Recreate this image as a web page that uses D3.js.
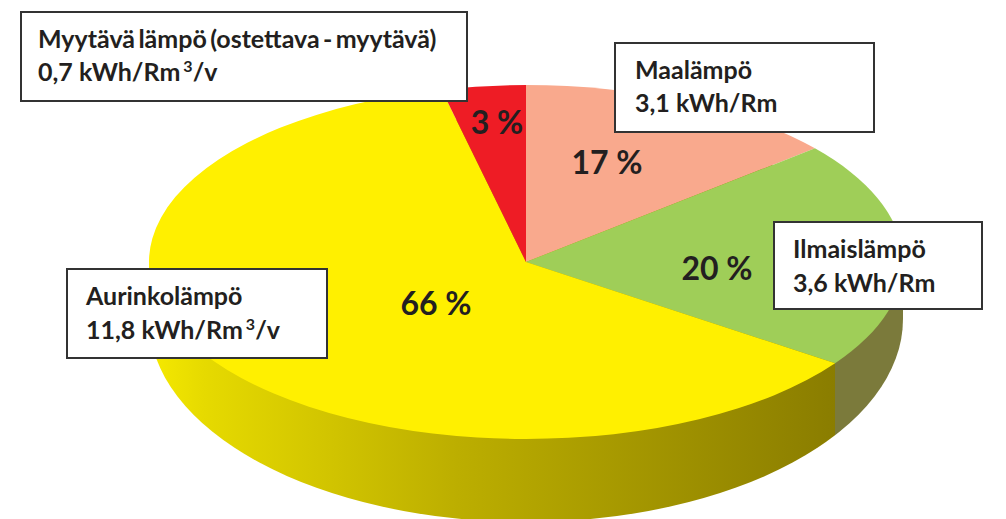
<!DOCTYPE html>
<html>
<head>
<meta charset="utf-8">
<script src="https://cdn.jsdelivr.net/npm/d3@7"></script>
<style>
  html, body { margin: 0; padding: 0; background: #fff; }
  svg { display: block; }
  text { font-family: Lato, "Open Sans", sans-serif; font-weight: 700; fill: #231f20; }
</style>
</head>
<body>
<script>
// Data
var categories = ['Maalämpö', 'Ilmaislämpö', 'Aurinkolämpö', 'Myytävä lämpö (ostettava - myytävä)'];
var valueLabels = ['3,1 kWh/Rm', '3,6 kWh/Rm', '11,8 kWh/Rm', '0,7 kWh/Rm'];
var valueSuffix = ['', '', '/v', '/v'];
var percentLabels = ['17 %', '20 %', '66 %', '3 %'];
// drawn size of each slice in the tilted pie (not the same as the printed %)
var sliceShares = [13.9, 20.8, 61.7, 3.6];
var sliceColors = ['#f9a98d', '#9fce58', '#fff000', '#ee1c25'];

// Layout
var w = 1006,
    h = 519,
    cx = 526,
    topY = 262,
    rx = 377,
    topRy = 177,
    bottomY = 319,
    bottomRy = 203;

var boxes = [
  { x: 615, y: 43, w: 259, h: 89, tx: 635, y1: 79, y2: 112, spacing: 0 },
  { x: 774, y: 222, w: 208, h: 87, tx: 793, y1: 258, y2: 292, spacing: 0 },
  { x: 67, y: 269, w: 260, h: 89, tx: 86, y1: 305, y2: 339, spacing: 0 },
  { x: 21, y: 12, w: 446, h: 89, tx: 38, y1: 48, y2: 81, spacing: -2.7 }
];
var percentPos = [[607, 174], [717, 280], [436, 315], [497, 134]];

var svg = d3.select('body')
            .append('svg')
            .attr('width', w)
            .attr('height', h);

var pie = d3.pie().sort(null);
var slices = pie(sliceShares);
var arc = d3.arc().innerRadius(0).outerRadius(rx);

// x where green meets yellow on the rim, the side wall changes colour there
var wallSplit = cx + rx * Math.sin(slices[1].endAngle);

var defs = svg.append('defs');

var grad = defs.append('linearGradient')
               .attr('id', 'wall')
               .attr('gradientUnits', 'userSpaceOnUse')
               .attr('x1', cx - rx).attr('x2', wallSplit)
               .attr('y1', 0).attr('y2', 0);
grad.append('stop').attr('offset', '0%').attr('stop-color', '#f6ea00');
grad.append('stop').attr('offset', '8%').attr('stop-color', '#e6da00');
grad.append('stop').attr('offset', '45%').attr('stop-color', '#bcae00');
grad.append('stop').attr('offset', '100%').attr('stop-color', '#8a7d00');

defs.append('clipPath').attr('id', 'wall-yellow')
    .append('rect')
    .attr('x', 0).attr('y', 0).attr('width', wallSplit).attr('height', h);
defs.append('clipPath').attr('id', 'wall-olive')
    .append('rect')
    .attr('x', wallSplit).attr('y', 0).attr('width', w - wallSplit).attr('height', h);

// Side wall: lower ellipse plus a band up to the top ellipse
function drawWall(clip, fill) {
  var g = svg.append('g').attr('clip-path', 'url(#' + clip + ')');
  g.append('ellipse')
   .attr('cx', cx).attr('cy', bottomY)
   .attr('rx', rx).attr('ry', bottomRy)
   .attr('fill', fill);
  g.append('rect')
   .attr('x', cx - rx).attr('y', topY)
   .attr('width', rx * 2).attr('height', bottomY - topY)
   .attr('fill', fill);
}
drawWall('wall-yellow', 'url(#wall)');
drawWall('wall-olive', '#7b7a3b');

// Top face
svg.append('g')
   .attr('transform', 'translate(' + cx + ',' + topY + ') scale(1,' + (topRy / rx) + ')')
   .selectAll('path')
   .data(slices)
   .enter()
   .append('path')
   .attr('d', arc)
   .attr('fill', function(d, i) { return sliceColors[i]; });

// Percent labels
svg.selectAll('text.pct')
   .data(percentLabels)
   .enter()
   .append('text')
   .attr('class', 'pct')
   .attr('x', function(d, i) { return percentPos[i][0]; })
   .attr('y', function(d, i) { return percentPos[i][1]; })
   .attr('text-anchor', 'middle')
   .attr('font-size', 32)
   .text(function(d) { return d; });

// Label boxes
var box = svg.selectAll('g.box')
             .data(boxes)
             .enter()
             .append('g')
             .attr('class', 'box');

box.append('rect')
   .attr('x', function(d) { return d.x; })
   .attr('y', function(d) { return d.y; })
   .attr('width', function(d) { return d.w; })
   .attr('height', function(d) { return d.h; })
   .attr('fill', '#fff')
   .attr('stroke', '#333')
   .attr('stroke-width', 2);

box.append('text')
   .attr('x', function(d) { return d.tx; })
   .attr('y', function(d) { return d.y1; })
   .attr('font-size', 25)
   .attr('word-spacing', function(d) { return d.spacing; })
   .text(function(d, i) { return categories[i]; });

var second = box.append('text')
   .attr('x', function(d) { return d.tx; })
   .attr('y', function(d) { return d.y2; })
   .attr('font-size', 25);

second.each(function(d, i) {
  var t = d3.select(this);
  t.append('tspan').text(valueLabels[i]);
  if (valueSuffix[i]) {
    t.append('tspan').attr('dx', 3).attr('dy', -9).attr('font-size', 16).text('3');
    t.append('tspan').attr('dy', 9).text(valueSuffix[i]);
  }
});
</script>
</body>
</html>
